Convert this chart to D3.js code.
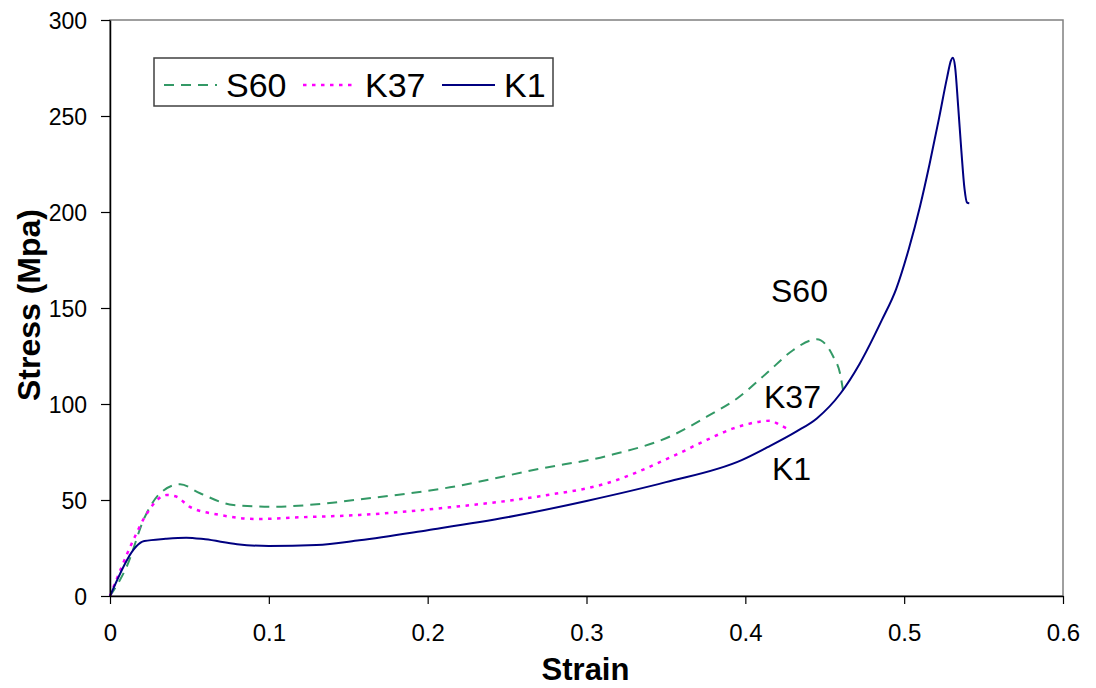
<!DOCTYPE html>
<html>
<head>
<meta charset="utf-8">
<script src="https://cdn.jsdelivr.net/npm/d3@7"></script>
<style>
  body { margin: 0; background: #fff; }
  svg { display: block; font-family: Arial, "Liberation Sans", sans-serif; }
</style>
</head>
<body>
<div id="chart"></div>
<script>
const WIDTH = 1096;
const HEIGHT = 688;
const MARGIN = { top: 20, right: 33, bottom: 92, left: 110 };

// series data (strain, stress in MPa)
const s60Strain = [0, 0.0105, 0.022, 0.0315, 0.0441, 0.0567, 0.0777, 0.103, 0.14, 0.157, 0.214, 0.2707, 0.3127, 0.3547, 0.3757, 0.395, 0.4134, 0.430, 0.4407, 0.445, 0.4554, 0.4596, 0.462];
const s60Stress = [0, 15.3, 41.3, 53.5, 58.2, 53.5, 47.4, 46.5, 48.6, 50.3, 56.6, 66.3, 72.9, 83.9, 93.4, 103, 116, 128, 133, 133.7, 124.6, 116, 104.7];

const k37Strain = [0, 0.0147, 0.022, 0.0357, 0.042, 0.05, 0.0693, 0.0924, 0.1196, 0.157, 0.214, 0.2707, 0.3127, 0.3547, 0.3757, 0.3925, 0.409, 0.4156, 0.4219, 0.428];
const k37Stress = [0, 29.2, 41.3, 52.6, 51.7, 46.5, 42.2, 40.1, 41, 42.2, 46.2, 52, 58.7, 72.9, 81.3, 87.3, 90.8, 91.3, 89, 86.5];

const k1Strain = [0, 0.0216, 0.035, 0.048, 0.06, 0.08, 0.1, 0.13, 0.157, 0.2, 0.25, 0.3, 0.35, 0.3977, 0.414, 0.432, 0.445, 0.46, 0.472, 0.486, 0.495, 0.503, 0.51, 0.516, 0.522, 0.527, 0.5295, 0.5306, 0.532, 0.534, 0.536, 0.538, 0.5395, 0.541];
const k1Stress = [0, 28.6, 29.8, 30.4, 29.5, 27, 26, 26.5, 29, 34.3, 41, 49.5, 59.3, 70.8, 77.5, 85.6, 92.5, 105.6, 121, 143.8, 160, 181, 203, 225, 249, 270, 279, 280.3, 276, 255, 232, 212, 205, 204.5];

const seriesNames = ['S60', 'K37', 'K1'];
const xTicks = [0, 0.1, 0.2, 0.3, 0.4, 0.5, 0.6];
const yTicks = [0, 50, 100, 150, 200, 250, 300];
const xTitle = 'Strain';
const yTitle = 'Stress (Mpa)';

const STYLES = {
  S60: { color: '#339966', dash: '10,7', width: 2 },
  K37: { color: '#ff00ff', dash: '3.5,5.5', width: 2.5 },
  K1:  { color: '#000080', dash: null, width: 2 }
};

function zip(xs, ys) {
  return xs.map((x, i) => ({ x: x, y: ys[i] }));
}

document.addEventListener('DOMContentLoaded', function() {
  const series = [
    { name: 'S60', values: zip(s60Strain, s60Stress) },
    { name: 'K37', values: zip(k37Strain, k37Stress) },
    { name: 'K1', values: zip(k1Strain, k1Stress) }
  ];
  drawChart(series);
});

function drawChart(series) {
  const xScale = d3.scaleLinear()
                   .domain([0, 0.6])
                   .range([MARGIN.left, WIDTH - MARGIN.right]);

  const yScale = d3.scaleLinear()
                   .domain([0, 300])
                   .range([HEIGHT - MARGIN.bottom, MARGIN.top]);

  const svg = d3.select('#chart')
                .append('svg')
                .attr('width', WIDTH)
                .attr('height', HEIGHT);

  // plot frame (gray top/right edges)
  svg.append('rect')
     .attr('x', xScale(0))
     .attr('y', yScale(300))
     .attr('width', xScale(0.6) - xScale(0))
     .attr('height', yScale(0) - yScale(300))
     .attr('fill', 'none')
     .attr('stroke', '#808080')
     .attr('stroke-width', 1.5);

  const line = d3.line()
                 .x(d => xScale(d.x))
                 .y(d => yScale(d.y))
                 .curve(d3.curveMonotoneX);

  svg.selectAll('path.series')
     .data(series)
     .enter()
     .append('path')
     .attr('class', 'series')
     .attr('d', d => line(d.values))
     .attr('fill', 'none')
     .attr('stroke', d => STYLES[d.name].color)
     .attr('stroke-width', d => STYLES[d.name].width)
     .attr('stroke-dasharray', d => STYLES[d.name].dash);

  // x axis
  const xAxis = d3.axisBottom(xScale)
                  .tickValues(xTicks)
                  .tickSize(8)
                  .tickSizeOuter(0)
                  .tickFormat(d => String(d));
  const gx = svg.append('g')
                .attr('transform', 'translate(0,' + yScale(0) + ')')
                .call(xAxis);
  gx.select('.domain').attr('stroke', '#000').attr('stroke-width', 1.5);
  gx.selectAll('.tick line').attr('stroke', '#000').attr('stroke-width', 1.2);
  gx.selectAll('.tick text')
    .attr('y', 45)
    .attr('dy', 0)
    .style('font-size', '24px')
    .attr('fill', '#000');

  // y axis
  const yAxis = d3.axisLeft(yScale)
                  .tickValues(yTicks)
                  .tickSize(9)
                  .tickSizeOuter(0);
  const gy = svg.append('g')
                .attr('transform', 'translate(' + xScale(0) + ',0)')
                .call(yAxis);
  gy.select('.domain').attr('stroke', '#000').attr('stroke-width', 1.5);
  gy.selectAll('.tick line').attr('stroke', '#000').attr('stroke-width', 1.2);
  gy.selectAll('.tick text')
    .attr('x', -23)
    .attr('dy', '0.36em')
    .style('font-size', '23px')
    .attr('fill', '#000');

  // axis titles
  svg.append('text')
     .attr('x', (xScale(0) + xScale(0.6)) / 2 - 1)
     .attr('y', 680)
     .attr('text-anchor', 'middle')
     .style('font-size', '31px')
     .style('font-weight', 'bold')
     .text(xTitle);

  svg.append('text')
     .attr('transform', 'translate(40,' + (yScale(150) - 3) + ') rotate(-90)')
     .attr('text-anchor', 'middle')
     .style('font-size', '32px')
     .style('font-weight', 'bold')
     .text(yTitle);

  // in-plot labels next to each curve
  const labelPos = { S60: [771, 302], K37: [764, 408], K1: [772, 480] };
  svg.selectAll('text.curve-label')
     .data(seriesNames)
     .enter()
     .append('text')
     .attr('class', 'curve-label')
     .attr('x', d => labelPos[d][0])
     .attr('y', d => labelPos[d][1])
     .style('font-size', '32px')
     .text(d => d);

  // legend
  const legend = svg.append('g').attr('transform', 'translate(154,58)');
  legend.append('rect')
        .attr('width', 399)
        .attr('height', 48)
        .attr('fill', '#fff')
        .attr('stroke', '#404040')
        .attr('stroke-width', 1.5);

  const legendX = { S60: 10, K37: 149, K1: 288 };
  const item = legend.selectAll('g.item')
                     .data(seriesNames)
                     .enter()
                     .append('g')
                     .attr('class', 'item')
                     .attr('transform', d => 'translate(' + legendX[d] + ',0)');
  item.append('line')
      .attr('x1', 0)
      .attr('x2', 53)
      .attr('y1', 27)
      .attr('y2', 27)
      .attr('stroke', d => STYLES[d].color)
      .attr('stroke-width', d => STYLES[d].width)
      .attr('stroke-dasharray', d => STYLES[d].dash);
  item.append('text')
      .attr('x', 62)
      .attr('y', 39)
      .style('font-size', '34px')
      .text(d => d);
}
</script>
</body>
</html>
